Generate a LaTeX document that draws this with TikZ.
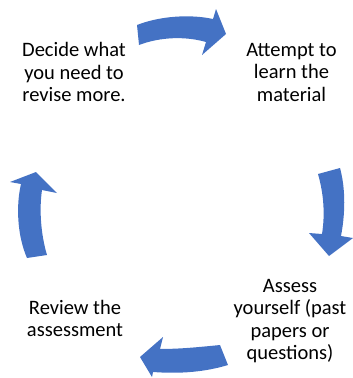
\documentclass[tikz,border=0pt]{standalone}
\usepackage{fontspec}
\setmainfont{Carlito}
\definecolor{cyc}{HTML}{4472C4}
\begin{document}
\begin{tikzpicture}[x=1pt,y=-1pt,
  txt/.style={align=center,inner sep=0pt,font=\fontsize{20.5}{22.5}\selectfont,text=black},
  blockarrow/.style={fill=cyc,draw=none}]
\useasboundingbox (0,0) rectangle (353,378);
% curved block arrows
\fill[blockarrow] (137,25) .. controls (160,16) and (190,14) .. (213,19) -- (216,9) -- (226,34) -- (202,55) -- (206,42) .. controls (185,36) and (160,37) .. (139,45) -- cycle;
\fill[blockarrow] (318,174) -- (340,168) .. controls (346,190) and (345,215) .. (341,236) -- (353,238) -- (329,256) -- (309,233) -- (322,234) .. controls (325,215) and (324,195) .. (318,174) -- cycle;
\fill[blockarrow] (220,345) .. controls (200,347) and (180,349) .. (160,349) -- (163,337) -- (140,357) -- (152,377) -- (153,372) .. controls (180,374) and (205,372) .. (228,365) -- cycle;
\fill[blockarrow] (27,258) .. controls (17,235) and (16,205) .. (21,184) -- (10,182) -- (36,172) -- (57,193) -- (42,190) .. controls (39,210) and (41,235) .. (47,255) -- cycle;
% texts
\node[txt] (decide) at (74,72) {Decide what\\you need to\\revise more.};
\node[txt] (attempt) at (291.5,72) {Attempt to\\learn the\\material};
\node[txt] (assess) at (290,321) {Assess\\yourself (past\\papers or\\questions)};
\node[txt] (review) at (75,318.5) {Review the\\assessment};
\end{tikzpicture}
\end{document}
